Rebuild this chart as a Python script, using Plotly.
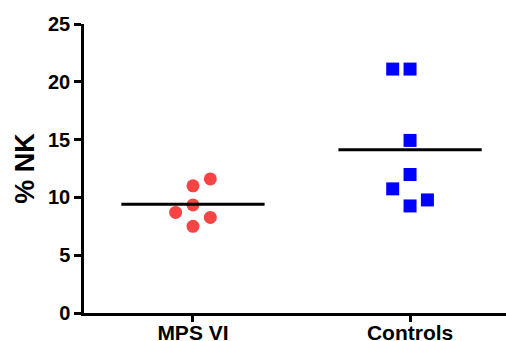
import plotly.graph_objects as go

# % NK cells per group
groups = ["MPS VI", "Controls"]
mps_vi = [11.6, 11.0, 9.35, 8.7, 8.27, 7.5]
controls = [21.1, 21.1, 14.93, 11.98, 10.74, 9.78, 9.26]

# column-scatter layout: horizontal slot of each point within its group
mps_slots = [1, 0, 0, -1, 1, 0]
ctrl_slots = [-1, 0, 0, 0, -1, 1, 0]
slot_width = 0.08
mean_half_width = 0.33

y_ticks = [0, 5, 10, 15, 20, 25]

FONT = "Liberation Sans"

fig = go.Figure()

fig.add_trace(go.Scatter(
    x=[0 + s * slot_width for s in mps_slots], y=mps_vi,
    mode="markers",
    marker=dict(symbol="circle", size=13, color="#F44444", line=dict(width=0)),
    showlegend=False,
))
fig.add_trace(go.Scatter(
    x=[1 + s * slot_width for s in ctrl_slots], y=controls,
    mode="markers",
    marker=dict(symbol="square", size=13, color="#0000FF", line=dict(width=0)),
    showlegend=False,
))

# group means
for i, vals in enumerate([mps_vi, controls]):
    m = sum(vals) / len(vals)
    fig.add_trace(go.Scatter(
        x=[i - mean_half_width, i + mean_half_width], y=[m, m],
        mode="lines", line=dict(color="black", width=3),
        showlegend=False, hoverinfo="skip",
    ))

fig.update_layout(
    width=506, height=341,
    margin=dict(l=84, r=0, t=24, b=28),
    plot_bgcolor="white", paper_bgcolor="white",
    font=dict(family=FONT, color="black"),
)
fig.update_xaxes(
    range=[-0.502, 1.442],
    tickvals=[0, 1], ticktext=[f"<b>{g}</b>" for g in groups],
    tickfont=dict(size=21, family=FONT),
    ticklabelstandoff=-7,
    showgrid=False, zeroline=False, automargin=False,
    showline=True, linecolor="black", linewidth=2.5,
    ticks="outside", ticklen=6, tickwidth=2.5, tickcolor="black",
)
fig.update_yaxes(
    range=[0, 25],
    tickvals=y_ticks, ticktext=[f"<b>{t}</b>" for t in y_ticks],
    tickfont=dict(size=20, family=FONT),
    showgrid=False, zeroline=False, automargin=False,
    showline=True, linecolor="black", linewidth=2.5,
    ticks="outside", ticklen=7, tickwidth=2.5, tickcolor="black",
    title=dict(text="<b>% NK</b>", font=dict(size=27, family=FONT), standoff=6),
)

fig.write_html("out.html")
